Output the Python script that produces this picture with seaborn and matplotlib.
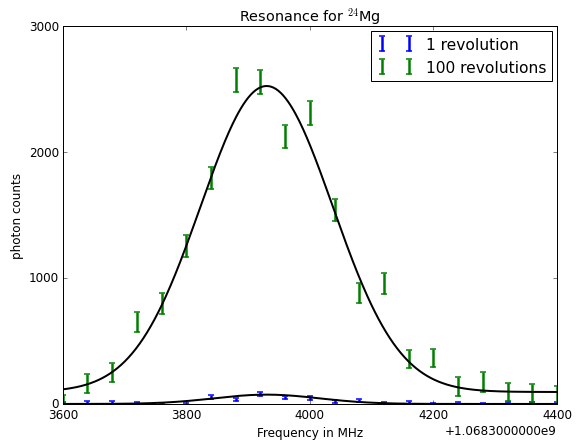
import numpy as np
import pandas as pd
import seaborn as sns
import matplotlib

matplotlib.use("Agg")
import matplotlib.pyplot as plt
from matplotlib.ticker import ScalarFormatter

# Data (frequency offsets in MHz relative to 1.0683e9)
base_freq = 1.0683e9
freq_offsets = [3600, 3640, 3680, 3720, 3760, 3800, 3840, 3880, 3920, 3960, 4000,
                4040, 4080, 4120, 4160, 4200, 4240, 4280, 4320, 4360, 4400]

counts_100 = [35, 160, 250, 650, 798, 1254, 1794, 2571, 2560, 2127, 2313,
              1540, 881, 956, 357, 365, 139, 175, 95, 87, 70]
err_100 = [40, 75, 75, 80, 82, 87, 90, 95, 95, 92, 94,
           88, 80, 82, 75, 75, 72, 80, 75, 72, 70]

counts_1 = [0, 10, 10, 5, -8, -3, 56, 37, 79, 53, 48,
            16, 24, 5, 13, -8, 3, -3, 3, 3, 3]
err_1 = [12, 12, 12, 12, 12, 12, 14, 13, 15, 14, 13,
         12, 12, 12, 12, 12, 12, 12, 12, 12, 12]

# Gaussian fit parameters: amplitude, centre, sigma, offset
fit_100 = (2430, 3930, 107, 95)
fit_1 = (74, 3930, 85, 0)


def gaussian(x, amp, mu, sigma, off):
    return amp * np.exp(-(x - mu) ** 2 / (2 * sigma ** 2)) + off


class OldOffsetFormatter(ScalarFormatter):
    def get_offset(self):
        if not self.offset:
            return ""
        e = int(np.floor(np.log10(abs(self.offset))))
        return "+%.10fe%d" % (self.offset / 10 ** e, e)


plt.style.use("classic")
plt.rcParams["figure.facecolor"] = "white"
plt.rcParams["savefig.facecolor"] = "white"

x = base_freq + np.array(freq_offsets, dtype=float)
x_fit = np.linspace(3600, 4400, 400)
curves = pd.DataFrame({
    "freq": base_freq + x_fit,
    "fit_100": gaussian(x_fit, *fit_100),
    "fit_1": gaussian(x_fit, *fit_1),
})

fig = plt.figure(figsize=(8, 6.18), dpi=72)
ax = fig.add_axes([0.109, 0.090, 0.858, 0.849])

ax.errorbar(x, counts_1, yerr=err_1, fmt="none", ecolor="b",
            elinewidth=2.5, capsize=3, capthick=1.5, label="1 revolution")
ax.errorbar(x, counts_100, yerr=err_100, fmt="none", ecolor="g",
            elinewidth=2.5, capsize=3, capthick=1.5, label="100 revolutions")

sns.lineplot(data=curves, x="freq", y="fit_100", color="k", linewidth=2, ax=ax)
sns.lineplot(data=curves, x="freq", y="fit_1", color="k", linewidth=2, ax=ax)

ax.set_xlim(base_freq + 3600, base_freq + 4400)
ax.set_ylim(0, 3000)
ax.set_yticks([0, 1000, 2000, 3000])
ax.set_xticks(base_freq + np.array([3600, 3800, 4000, 4200, 4400]))
fmt = OldOffsetFormatter(useOffset=base_freq)
ax.xaxis.set_major_formatter(fmt)

ax.set_title("Resonance for $^{24}$Mg")
ax.set_xlabel("Frequency in MHz")
ax.set_ylabel("photon counts")
ax.legend(loc="upper right", numpoints=2, fontsize=15.5, handlelength=2.3,
          borderaxespad=0.3)

fig.savefig("out.png", dpi=72)
